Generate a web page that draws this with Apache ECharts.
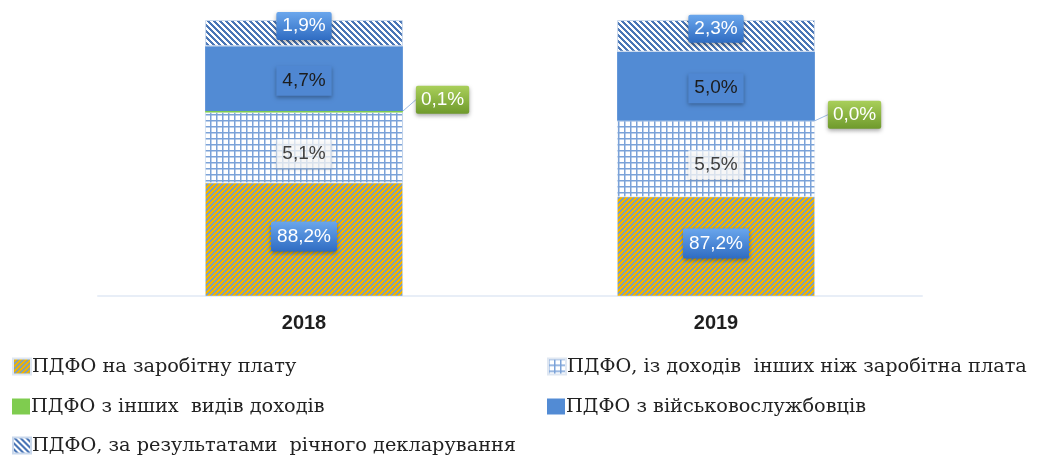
<!DOCTYPE html>
<html lang="uk">
<head>
    <meta charset="UTF-8">
    <title>ПДФО</title>
    <script src="https://cdn.jsdelivr.net/npm/echarts@6/dist/echarts.min.js"></script>
    <style>
        html, body { margin: 0; padding: 0; background: #fff; }
        #chart { width: 1037px; height: 459px; }
    </style>
</head>
<body>
<div id="chart"></div>

<script>
    // data
    var years = ['2018', '2019'];
    var seriesNames = [
        'ПДФО на заробітну плату',
        'ПДФО, із доходів  інших ніж заробітна плата',
        'ПДФО з інших  видів доходів',
        'ПДФО з військовослужбовців',
        'ПДФО, за результатами  річного декларування'
    ];
    var wage = [88.2, 87.2];
    var otherIncome = [5.1, 5.5];
    var otherTypes = [0.1, 0.0];
    var military = [4.7, 5.0];
    var declaration = [1.9, 2.3];

    function hex(c) {
        return [parseInt(c.substr(1, 2), 16), parseInt(c.substr(3, 2), 16), parseInt(c.substr(5, 2), 16)];
    }

    // pixel-exact diagonal stripes, so they stay crisp
    function stripes(bg, fg, period, thick, dir) {
        var c = document.createElement('canvas');
        c.width = period; c.height = period;
        var ctx = c.getContext('2d');
        var img = ctx.createImageData(period, period);
        var b = hex(bg), f = hex(fg);
        for (var y = 0; y < period; y++) {
            for (var x = 0; x < period; x++) {
                var k = dir === '/' ? (x + y) % period : ((x - y) % period + period) % period;
                var col = k < thick ? f : b;
                var i = (y * period + x) * 4;
                img.data[i] = col[0]; img.data[i + 1] = col[1]; img.data[i + 2] = col[2]; img.data[i + 3] = 255;
            }
        }
        ctx.putImageData(img, 0, 0);
        return { image: c, repeat: 'repeat' };
    }

    function gridPattern(bg, fg, size) {
        var c = document.createElement('canvas');
        c.width = size; c.height = size;
        var ctx = c.getContext('2d');
        ctx.fillStyle = bg;
        ctx.fillRect(0, 0, size, size);
        ctx.fillStyle = fg;
        ctx.fillRect(0, 0, size, 1.5);
        ctx.fillRect(0, 0, 1.5, size);
        return { image: c, repeat: 'repeat' };
    }

    function pct(p) {
        return p.value.toFixed(1).replace('.', ',') + '%';
    }

    var blueBox = new echarts.graphic.LinearGradient(0, 0, 0, 1, [
        { offset: 0, color: '#6aa6ec' },
        { offset: 1, color: '#2f6cc2' }
    ]);
    var greenBox = new echarts.graphic.LinearGradient(0, 0, 0, 1, [
        { offset: 0, color: '#a9cf5a' },
        { offset: 1, color: '#6f9a2c' }
    ]);

    var labelFont = '"Liberation Sans", Arial, sans-serif';

    var chart = echarts.init(document.getElementById('chart'));

    var legendBase = {
        orient: 'vertical',
        padding: 0,
        itemWidth: 18,
        itemHeight: 16,
        itemGap: 0,
        icon: 'rect',
        textStyle: {
            fontFamily: '"DejaVu Serif", "Liberation Serif", serif',
            fontSize: 19.3,
            color: '#222',
            padding: [0, 0, 0, -4]
        }
    };

    function legendAt(name, left, top) {
        return Object.assign({}, legendBase, { data: [name], left: left, top: top });
    }

    var option = {
        backgroundColor: '#fff',
        animation: false,
        grid: { left: 98, right: 115, top: 20, bottom: 163 },
        legend: [
            legendAt(seriesNames[0], 12, 357),
            legendAt(seriesNames[1], 547, 357),
            legendAt(seriesNames[2], 12, 397),
            legendAt(seriesNames[3], 547, 397),
            legendAt(seriesNames[4], 12, 436)
        ],
        xAxis: {
            type: 'category',
            data: years,
            axisLine: { lineStyle: { color: '#e8eef7', width: 2 } },
            axisTick: { show: false },
            axisLabel: {
                margin: 17,
                fontFamily: labelFont,
                fontWeight: 'bold',
                fontSize: 20,
                color: '#1f1f1f'
            }
        },
        yAxis: {
            type: 'value',
            min: 80,
            max: 100,
            show: false
        },
        series: [
            {
                name: seriesNames[0],
                type: 'bar',
                stack: 'total',
                barWidth: '48%',
                data: wage,
                itemStyle: {
                    color: stripes('#f0b400', '#6f9bd0', 5, 2, '/'),
                    borderColor: '#dfe7f2',
                    borderWidth: 0.5
                },
                label: {
                    show: true,
                    position: 'inside',
                    offset: [0, -3],
                    formatter: pct,
                    fontFamily: labelFont,
                    fontSize: 19,
                    color: '#fff',
                    backgroundColor: blueBox,
                    borderRadius: 2,
                    padding: [6, 6, 5, 6],
                    shadowBlur: 4,
                    shadowOffsetY: 2,
                    shadowColor: 'rgba(0,0,0,0.35)'
                }
            },
            {
                name: seriesNames[1],
                type: 'bar',
                stack: 'total',
                data: otherIncome,
                itemStyle: {
                    color: gridPattern('#ffffff', '#7ba2d8', 6.3),
                    borderColor: '#dfe7f2',
                    borderWidth: 0.5
                },
                label: {
                    show: true,
                    position: 'inside',
                    offset: [0, 6],
                    formatter: pct,
                    fontFamily: labelFont,
                    fontSize: 19,
                    color: '#404040',
                    backgroundColor: 'rgba(255,255,255,0.75)',
                    padding: [5, 6, 5, 6],
                    shadowBlur: 3,
                    shadowOffsetY: 2,
                    shadowColor: 'rgba(0,0,0,0.2)'
                }
            },
            {
                name: seriesNames[2],
                type: 'bar',
                stack: 'total',
                data: otherTypes,
                itemStyle: { color: '#7fcc4f' },
                label: {
                    show: true,
                    position: 'right',
                    distance: 13,
                    formatter: pct,
                    fontFamily: labelFont,
                    fontSize: 19,
                    color: '#fff',
                    backgroundColor: greenBox,
                    borderRadius: 2,
                    padding: [5, 5, 4, 5],
                    shadowBlur: 4,
                    shadowOffsetY: 2,
                    shadowColor: 'rgba(0,0,0,0.35)'
                },
                labelLayout: function (p) {
                    return { dy: p.dataIndex === 0 ? -12 : -6 };
                },
                labelLine: { show: true, lineStyle: { color: '#9dbbe3', width: 1 } }
            },
            {
                name: seriesNames[3],
                type: 'bar',
                stack: 'total',
                data: military,
                itemStyle: { color: '#528bd4' },
                label: {
                    show: true,
                    position: 'inside',
                    offset: [0, 2],
                    formatter: pct,
                    fontFamily: labelFont,
                    fontSize: 19,
                    color: '#1c1c1c',
                    backgroundColor: '#4f87d2',
                    padding: [6, 6, 5, 6],
                    shadowBlur: 4,
                    shadowOffsetY: 2,
                    shadowColor: 'rgba(0,0,0,0.3)'
                }
            },
            {
                name: seriesNames[4],
                type: 'bar',
                stack: 'total',
                data: declaration,
                itemStyle: {
                    color: stripes('#ffffff', '#4a76b6', 6, 3, '\\'),
                    borderColor: '#c9d8ec',
                    borderWidth: 1
                },
                label: {
                    show: true,
                    position: 'inside',
                    offset: [0, -7],
                    formatter: pct,
                    fontFamily: labelFont,
                    fontSize: 19,
                    color: '#fff',
                    backgroundColor: blueBox,
                    borderRadius: 2,
                    padding: [5, 6, 4, 6],
                    shadowBlur: 4,
                    shadowOffsetY: 2,
                    shadowColor: 'rgba(0,0,0,0.35)'
                }
            }
        ]
    };

    chart.setOption(option);
</script>

</body>
</html>
